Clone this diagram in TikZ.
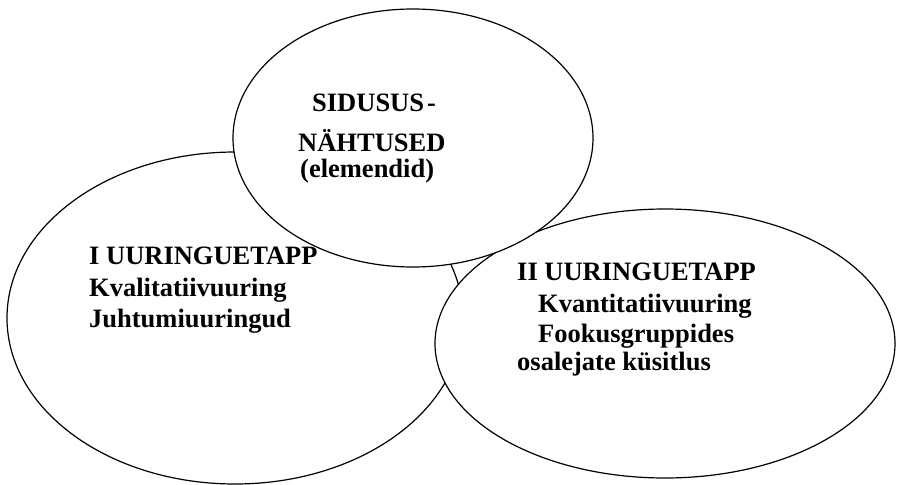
\documentclass[tikz,border=0pt]{standalone}
\usepackage{fontspec}
\setmainfont{Liberation Serif}
\usepackage{tikz}
\usetikzlibrary{shapes.geometric}

\tikzset{
  ring/.style={draw=black, line width=1.2pt, fill=white, ellipse, inner sep=0pt},
  rida/.style={anchor=base west, inner sep=0pt,
               font=\fontsize{26.5}{31}\selectfont\bfseries}
}

\begin{document}
\begin{tikzpicture}[x=1pt, y=-1pt]
  \useasboundingbox (0,0) rectangle (898,485);

  % the three circles, back to front
  \node[ring, minimum width=456pt, minimum height=332pt] (etapp1) at (235,318) {};
  \node[ring, minimum width=460pt, minimum height=269pt] (etapp2) at (665,343.5) {};
  \node[ring, minimum width=360pt, minimum height=258pt] (sidusus) at (413,138) {};

  % top
  \node[rida] (sid1) at (312,111) {SIDUSUS\hspace{3pt}-};
  \node[rida] (sid2) at (298,151) {NÄHTUSED};
  \node[rida] (sid3) at (300,177) {(elemendid)};

  % left
  \node[rida] (ea1) at (89,264) {I UURINGUETAPP};
  \node[rida] (ea2) at (89,296) {Kvalitatiivuuring};
  \node[rida] (ea3) at (89,327) {Juhtumiuuringud};

  % right
  \node[rida] (eb1) at (517,280) {II UURINGUETAPP};
  \node[rida] (eb2) at (538,312) {Kvantitatiivuuring};
  \node[rida] (eb3) at (538,342) {Fookusgruppides};
  \node[rida] (eb4) at (517,370) {osalejate küsitlus};
\end{tikzpicture}
\end{document}
